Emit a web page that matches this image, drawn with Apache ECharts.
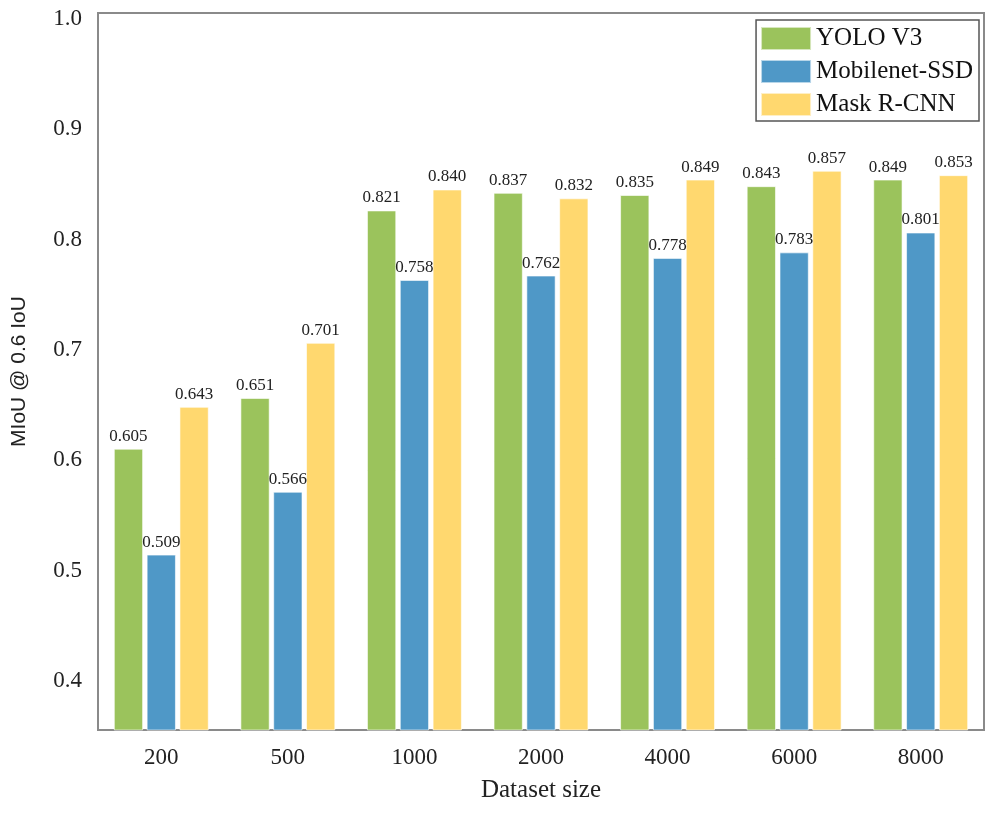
<!DOCTYPE html>
<html>
<head>
<meta charset="utf-8">
<script src="https://cdn.jsdelivr.net/npm/echarts@6/dist/echarts.min.js"></script>
<style>html,body{margin:0;padding:0;background:#fff}#c{width:994px;height:813px}</style>
</head>
<body>
<div id="c"></div>
<script>
const categories = ['200', '500', '1000', '2000', '4000', '6000', '8000'];
const yoloV3 = [0.605, 0.651, 0.821, 0.837, 0.835, 0.843, 0.849];
const mobilenetSSD = [0.509, 0.566, 0.758, 0.762, 0.778, 0.783, 0.801];
const maskRCNN = [0.643, 0.701, 0.840, 0.832, 0.849, 0.857, 0.853];
const yTicks = [0.4, 0.5, 0.6, 0.7, 0.8, 0.9, 1.0];

const serif = '"Liberation Serif", "DejaVu Serif", serif';
const chart = echarts.init(document.getElementById('c'));
function mk(name, data, color) {
  return {
    name: name, type: 'bar', data: data,
    barGap: '12%', barCategoryGap: '25%',
    itemStyle: { color: color, borderColor: 'rgba(255,255,255,0.6)', borderWidth: 1 },
    label: { show: true, position: 'top', distance: 4, color: '#222', fontFamily: serif, fontSize: 17,
      formatter: p => p.value.toFixed(3) }
  };
}
chart.setOption({
  animation: false,
  grid: { left: 98, top: 13, right: 10, bottom: 83, show: true, borderColor: '#8a8a8a', borderWidth: 2, backgroundColor: 'transparent' },
  legend: {
    orient: 'vertical', right: 15, top: 20,
    icon: 'rect',
    itemWidth: 50, itemHeight: 23, itemGap: 8,
    borderColor: '#555', borderWidth: 1.5, borderRadius: 0, padding: [6, 6, 4, 4],
    textStyle: { fontFamily: serif, fontSize: 25, color: '#111' },
    data: ['YOLO V3', 'Mobilenet-SSD', 'Mask R-CNN']
  },
  xAxis: {
    type: 'category', data: categories,
    name: 'Dataset size', nameLocation: 'middle', nameGap: 48,
    nameTextStyle: { fontFamily: serif, fontSize: 25, color: '#222' },
    axisLine: { show: true, lineStyle: { color: '#8a8a8a', width: 2 } },
    axisTick: { show: false },
    axisLabel: { fontFamily: serif, fontSize: 23, color: '#222', margin: 16 }
  },
  yAxis: {
    type: 'value', min: 0.35, max: 1.0,
    name: 'MIoU @ 0.6 IoU', nameLocation: 'middle', nameGap: 68,
    nameTextStyle: { fontFamily: '"Liberation Sans", Arial, sans-serif', fontSize: 21, color: '#222' },
    axisLine: { show: true, lineStyle: { color: '#8a8a8a', width: 2 } },
    axisTick: { show: false },
    splitLine: { show: false },
    axisLabel: { color: '#222', margin: 16, customValues: yTicks,
      formatter: v => '{a|' + v.toFixed(1) + '}',
      rich: { a: { fontFamily: serif, fontSize: 23, color: '#222', padding: [12, 0, 0, 0] } } }
  },
  series: [
    mk('YOLO V3', yoloV3, '#9bc35c'),
    mk('Mobilenet-SSD', mobilenetSSD, '#4f98c7'),
    mk('Mask R-CNN', maskRCNN, '#ffd86f')
  ]
});
</script>
</body>
</html>
